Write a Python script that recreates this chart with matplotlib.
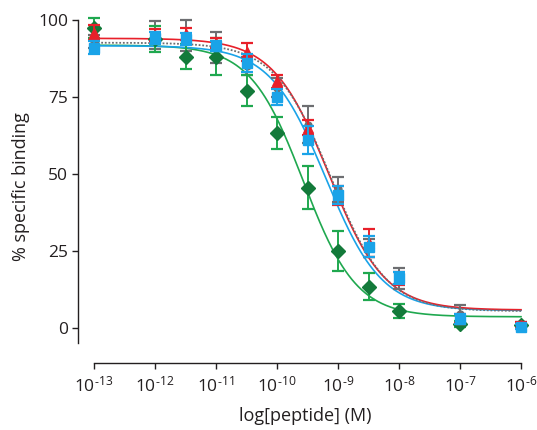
import numpy as np
import matplotlib
matplotlib.use("Agg")
import matplotlib.pyplot as plt

plt.rcParams['font.family'] = ['Open Sans', 'DejaVu Sans']
plt.rcParams['mathtext.fontset'] = 'custom'
plt.rcParams['mathtext.rm'] = 'Open Sans'
plt.rcParams['mathtext.it'] = 'Open Sans'
plt.rcParams['axes.unicode_minus'] = False

# log10 of peptide concentration (M)
log_conc = [-13, -12, -11.5, -11, -10.5, -10, -9.5, -9, -8.5, -8, -7, -6]

# % specific binding (mean, error) per peptide
red_y   = [95.8, 95.0, 95.5, 92.5, 89.6, 80.0, 65.0, 43.0, 27.5, 16.0, 3.0, 1.0]
red_e   = [2.5, 2.0, 2.0, 1.5, 3.0, 2.0, 2.5, 3.0, 4.5, 2.0, 1.5, 1.0]
gray_y  = [93.0, 95.0, 95.0, 91.0, 85.0, 78.0, 66.0, 45.0, 26.0, 16.0, 4.5, 1.0]
gray_e  = [2.0, 4.5, 5.0, 5.0, 3.0, 3.0, 6.0, 4.0, 3.0, 3.5, 3.0, 1.0]
blue_y  = [91.0, 94.0, 93.8, 91.5, 86.0, 75.0, 61.0, 43.2, 26.4, 16.1, 2.9, 0.4]
blue_e  = [2.0, 2.0, 2.0, 1.5, 3.0, 2.5, 4.5, 3.0, 3.5, 2.0, 1.5, 0.8]
green_y = [97.4, 93.8, 88.0, 88.0, 77.0, 63.3, 45.5, 25.0, 13.3, 5.5, 1.3, 0.8]
green_e = [3.2, 4.2, 4.0, 6.0, 5.0, 5.2, 7.0, 6.5, 4.4, 2.4, 1.0, 0.8]

# four-parameter logistic fit parameters: top, bottom, logIC50, hill slope
red_fit   = [94.0, 5.8, -9.15, 0.95]
gray_fit  = [92.6, 5.4, -9.12, 0.95]
blue_fit  = [91.6, 5.6, -9.20, 0.95]
green_fit = [91.8, 3.6, -9.57, 1.0]

x_ticks = [-13, -12, -11, -10, -9, -8, -7, -6]
y_ticks = [0, 25, 50, 75, 100]

RED = '#e8202a'
GRAY = '#6d6e71'
BLUE = '#1aa3e8'
GREEN_LINE = '#1fa84f'
GREEN_MARK = '#137a3a'


def logistic(x, top, bottom, logic50, hill):
    return bottom + (top - bottom) / (1.0 + 10 ** ((x - logic50) * hill))


W, H = 537, 430
fig = plt.figure(figsize=(W / 100, H / 100), dpi=100)
left_px, right_px, top_px, bot_px = 78, 532, 10, 363
ax = fig.add_axes([left_px / W, 1 - bot_px / H,
                   (right_px - left_px) / W, (bot_px - top_px) / H])

xs = np.linspace(-13, -6, 400)
ax.plot(xs, logistic(xs, *green_fit), color=GREEN_LINE, lw=1.2, zorder=2)
ax.plot(xs, logistic(xs, *blue_fit), color=BLUE, lw=1.2, zorder=2)
ax.plot(xs, logistic(xs, *red_fit), color=RED, lw=1.2, zorder=2)
ax.plot(xs, logistic(xs, *gray_fit), color=GRAY, lw=1.3, ls=(0, (1, 1)), zorder=2)

common = dict(capsize=4.5, elinewidth=1.4, capthick=1.6, ls='none')
ax.errorbar(log_conc, gray_y, yerr=gray_e, color=GRAY, marker='o', ms=5,
            zorder=3, **common)
ax.errorbar(log_conc, green_y, yerr=green_e, color=GREEN_LINE, marker='D',
            ms=7, mfc=GREEN_MARK, mec=GREEN_MARK, zorder=4, **common)
ax.errorbar(log_conc, red_y, yerr=red_e, color=RED, marker='^', ms=7,
            zorder=5, **common)
ax.errorbar(log_conc, blue_y, yerr=blue_e, color=BLUE, marker='s', ms=7,
            zorder=6, **common)

ax.set_xlim(-13 - 16 / 61, -13 + (right_px - 94) / 61)
ax.set_ylim(-11.4, 103.2)

for s in ['top', 'right']:
    ax.spines[s].set_visible(False)
ax.spines['left'].set_bounds(-5, 100)
ax.spines['bottom'].set_bounds(-13, -6)
for s in ['left', 'bottom']:
    ax.spines[s].set_linewidth(1.0)
    ax.spines[s].set_color('#231f20')

ax.set_yticks(y_ticks)
ax.set_yticklabels([str(v) for v in y_ticks])
ax.set_xticks(x_ticks)
ax.set_xticklabels(['10$^{\u2010%d}$' % abs(v) for v in x_ticks])
ax.tick_params(axis='both', direction='out', length=4, width=1.0,
               color='#231f20', labelsize=12.5, labelcolor='#231f20')
ax.tick_params(axis='x', pad=5)
ax.tick_params(axis='y', pad=3)

ax.set_xlabel('log[peptide] (M)', fontsize=13, color='#231f20', labelpad=8)
ax.set_ylabel('% specific binding', fontsize=13, color='#231f20', labelpad=6)

fig.savefig('out.png', dpi=100)
